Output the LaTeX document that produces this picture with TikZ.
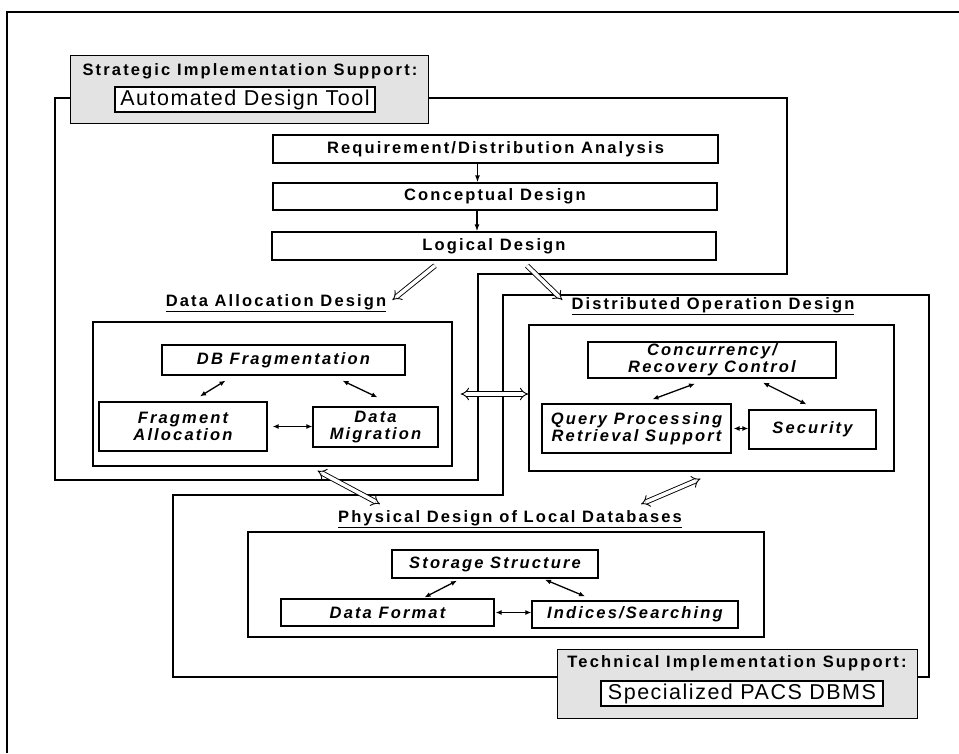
\documentclass[tikz,border=0pt]{standalone}
\usepackage{fontspec}
\setmainfont{Liberation Sans}
\newfontfamily\spaced[LetterSpace=13]{Liberation Sans}
\newfontfamily\wide[LetterSpace=7]{Liberation Sans}
\usetikzlibrary{arrows.meta,positioning}

\begin{document}
\begin{tikzpicture}[
    x=1pt, y=-1pt,
    font=\spaced\bfseries\fontsize{16.5}{17}\selectfont,
    block/.style={draw, line width=1.3pt, inner sep=0pt, align=center},
    task/.style={block, font=\spaced\bfseries\itshape\fontsize{16.5}{17}\selectfont},
    area/.style={draw, line width=1.4pt, inner sep=0pt},
    heading/.style={inner sep=0pt, font=\spaced\bfseries\fontsize{16.5}{17}\selectfont},
    support/.style={draw, fill=gray!22, line width=1pt, inner sep=0pt},
    toolbox/.style={draw, fill=white, line width=1.3pt, inner sep=0pt, font=\wide\fontsize{21.5}{22}\selectfont},
    frame/.style={line width=1.8pt},
    line/.style={{Latex[length=6pt,width=5pt]}-{Latex[length=6pt,width=5pt]}, line width=1.3pt},
    phase/.style={-{Latex[length=7pt,width=5pt]}, line width=1.5pt},
    flow/.style={double, double distance=3.5pt, line width=0.9pt, {Implies[scale=1.4]}-{Implies[scale=1.4]}},
    flowto/.style={double, double distance=3.5pt, line width=0.9pt, -{Implies[scale=1.4]}}
]
\useasboundingbox (0,0) rectangle (959,753);

% page frame and the two support regions
\draw[frame] (959,12) -- (7,12) -- (7,753);
\draw[frame] (55,98) -- (787,98) -- (787,274) -- (478,274) -- (478,480) -- (55,480) -- cycle;
\draw[frame] (503,295) -- (929,295) -- (929,677) -- (173,677) -- (173,495) -- (503,495) -- cycle;

% strategic support
\node[support, minimum width=358pt, minimum height=68pt] (strat) at (249,89) {};
\node[inner sep=0pt] (stratname) at (250,71) {Strategic Implementation Support:};
\node[toolbox, minimum width=260pt, minimum height=25pt] (strattool) at (245,99.5) {Automated Design Tool};

% design phases
\node[block, minimum width=445pt, minimum height=28pt] (req) at (495.5,149) {Requirement/Distribution Analysis};
\node[block, minimum width=444pt, minimum height=27pt] (concept) at (495,196.5) {Conceptual Design};
\node[block, minimum width=444pt, minimum height=28pt] (logic) at (494,246) {Logical Design};

% data allocation
\node[heading] (dalabel) at (276,303) {\underline{Data Allocation Design}};
\node[area, minimum width=359pt, minimum height=144pt] (dabox) at (272.5,394) {};
\node[task, minimum width=243pt, minimum height=30pt] (dbfrag) at (283.5,360) {DB Fragmentation};
\node[task, minimum width=168pt, minimum height=49pt] (fragalloc) at (183,426.5) {Fragment\\Allocation};
\node[task, minimum width=125pt, minimum height=40pt] (datamig) at (375.5,427) {Data\\Migration};

% distributed operation
\node[heading] (dolabel) at (713,306) {\underline{Distributed Operation Design}};
\node[area, minimum width=365pt, minimum height=146pt] (dobox) at (711.5,398) {};
\node[task, minimum width=248pt, minimum height=36pt] (concur) at (712,360) {Concurrency/\\Recovery Control};
\node[task, minimum width=189pt, minimum height=49pt] (query) at (636.5,428.5) {Query Processing\\Retrieval Support};
\node[task, minimum width=127pt, minimum height=39pt] (security) at (812.5,429.5) {Security};

% physical design
\node[heading] (pdlabel) at (510,519) {\underline{Physical Design of Local Databases}};
\node[area, minimum width=516pt, minimum height=105pt] (pdbox) at (506,584.5) {};
\node[task, minimum width=206pt, minimum height=28pt] (storage) at (495,564) {Storage Structure};
\node[task, minimum width=213pt, minimum height=27pt] (dformat) at (387.5,612.5) {Data Format};
\node[task, minimum width=206pt, minimum height=27pt] (indices) at (635,614.5) {Indices/Searching};

% technical support
\node[support, minimum width=360pt, minimum height=69pt] (tech) at (737,683.5) {};
\node[inner sep=0pt] (techname) at (737,663) {Technical Implementation Support:};
\node[toolbox, minimum width=282pt, minimum height=25pt] (techtool) at (742,693.5) {Specialized PACS DBMS};

% phase arrows
\draw[phase] ([xshift=-18pt]req.south) -- ([xshift=-18pt]req.south |- concept.north);
\draw[phase] ([xshift=-18pt]concept.south) -- ([xshift=-18pt]concept.south |- logic.north);

\draw[flowto] ([xshift=-59pt,yshift=-5pt]logic.south) -- ([xshift=6pt,yshift=3pt]dalabel.east);
\draw[flowto] ([xshift=33pt,yshift=-5pt]logic.south) -- ([xshift=-9pt,yshift=6pt]dolabel.west);
\draw[flow] ([xshift=8pt]dabox.east) -- (dabox.east -| dobox.west);
\draw[flow] ([xshift=45pt,yshift=-4pt]dabox.south) -- ([xshift=42pt,yshift=6pt]pdlabel.north west);
\draw[flow] ([xshift=-11pt,yshift=-7pt]dobox.south) -- ([xshift=-41pt,yshift=6pt]pdlabel.north east);

% links inside the areas
\draw[line] ([xshift=-58pt,yshift=-5pt]dbfrag.south) -- ([xshift=17pt,yshift=5pt]fragalloc.north);
\draw[line] ([xshift=59pt,yshift=-5pt]dbfrag.south) -- ([xshift=2pt,yshift=9pt]datamig.north);
\draw[line] ([xshift=5pt]fragalloc.east) -- (fragalloc.east -| datamig.west);

\draw[line] ([xshift=-17pt,yshift=-5pt]concur.south) -- ([xshift=16pt,yshift=4pt]query.north);
\draw[line] ([xshift=51pt,yshift=-4pt]concur.south) -- ([xshift=-6pt,yshift=5pt]security.north);
\draw[line] ([xshift=2pt]query.east) -- (query.east -| security.west);

\draw[line] ([xshift=-38pt,yshift=-2pt]storage.south) -- ([xshift=37pt,yshift=1pt]dformat.north);
\draw[line] ([xshift=50pt,yshift=-1pt]storage.south) -- ([xshift=-50pt,yshift=4pt]indices.north);
\draw[line] ([xshift=1pt]dformat.east) -- (dformat.east -| indices.west);
\end{tikzpicture}
\end{document}
